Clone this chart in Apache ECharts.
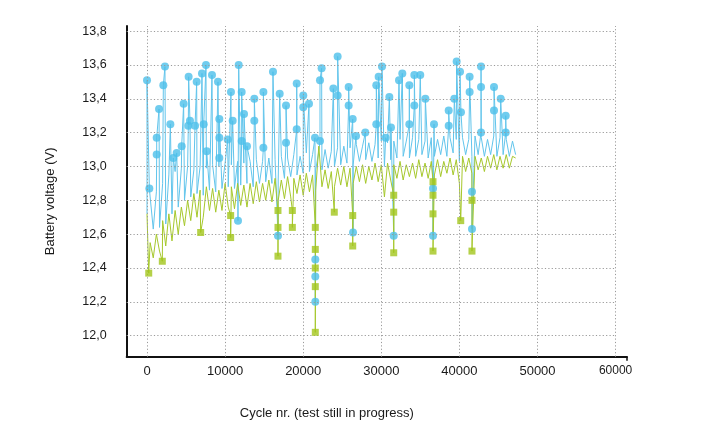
<!DOCTYPE html>
<html>
<head>
<meta charset="utf-8">
<script src="https://cdn.jsdelivr.net/npm/echarts@6/dist/echarts.min.js"></script>
<style>
html,body{margin:0;padding:0;background:#fff;}
#c{width:708px;height:425px;}
</style>
</head>
<body>
<div id="c"></div>
<script>
// Zigzag (regular cycle) readings
var cycles = [0,400,800,1200,1600,2000,2400,2800,3200,3600,4000,4400,4800,5200,5600,6000,6400,6800,7200,7600,
  8000,8400,8800,9200,9600,10000,10400,10800,11200,11600,12000,12400,12800,13200,13600,14000,14400,14800,15200,15600,
  16000,16400,16800,17200,17600,18000,18400,18800,19200,19600,20000,20400,20800,21200,21600,22000,22400,22800,23200,23600,
  24000,24400,24800,25200,25600,26000,26400,26800,27200,27600,28000,28400,28800,29200,29600,30000,30400,30800,31200,31600,
  32000,32400,32800,33200,33600,34000,34400,34800,35200,35600,36000,36400,36800,37200,37600,38000,38400,38800,39200,39600,
  40000,40400,40800,41200,41600,42000,42400,42800,43200,43600,44000,44400,44800,45200,45600,46000,46400,46800,47200];
var blueLine = [12.72,12.82,12.63,12.85,12.64,12.90,12.66,12.95,12.72,12.97,12.76,12.99,12.80,13.00,12.82,12.98,12.84,13.00,12.83,12.99,
  12.86,13.01,12.85,13.00,12.87,13.02,12.88,13.01,12.87,13.03,12.89,13.02,12.90,13.03,12.88,13.04,12.90,13.03,12.91,13.05,
  12.90,13.04,12.92,13.06,12.93,13.05,12.94,13.07,12.95,13.06,12.96,13.08,12.97,13.07,12.98,13.09,12.98,13.10,12.99,13.09,
  13.00,13.11,13.01,13.12,13.02,13.11,13.01,13.13,13.03,13.12,13.04,13.14,13.03,13.13,13.05,13.15,13.00,13.14,13.04,13.15,
  13.05,13.16,13.06,13.15,13.05,13.17,13.06,13.16,13.07,13.15,13.05,13.17,13.06,13.16,13.07,13.18,13.06,13.17,13.08,13.16,
  13.03,13.17,13.07,13.16,13.06,13.18,13.07,13.17,13.06,13.16,13.07,13.18,13.06,13.17,13.07,13.16,13.06,13.15,13.07];
var greenLine = [12.72,12.55,12.46,12.60,12.50,12.68,12.53,12.72,12.56,12.74,12.60,12.76,12.65,12.80,12.68,12.84,12.70,12.86,12.70,12.88,
  12.74,12.87,12.73,12.86,12.74,12.90,12.76,12.88,12.75,12.90,12.77,12.89,12.76,12.90,12.78,12.91,12.79,12.90,12.80,12.92,
  12.79,12.93,12.80,12.92,12.81,12.94,12.82,12.93,12.84,12.95,12.83,12.96,12.85,12.95,12.86,13.12,12.88,12.98,12.87,12.97,
  12.88,12.99,12.89,13.00,12.88,12.99,12.90,13.00,12.91,13.01,12.90,13.00,12.92,13.02,12.91,13.01,12.82,13.02,12.92,13.01,
  12.93,13.03,12.92,13.01,12.94,13.02,12.93,13.04,12.94,13.02,12.93,13.03,12.95,13.04,12.94,13.03,12.96,13.05,12.95,13.04,
  12.90,13.06,12.97,13.05,12.96,13.06,12.98,13.05,12.97,13.06,12.99,13.07,12.98,13.06,12.99,13.07,12.99,13.06,13.05];

// Marked check readings (circles on blue, squares on green)
var blueMarkCycle = [0,300,1240,1240,1540,2090,2300,2990,3370,3800,4440,4690,5290,5330,5500,6150,6360,7040,7260,7550,
  7640,8320,9090,9260,9260,9260,10330,10750,10970,11650,11740,12120,12120,12420,12800,13740,13740,14900,14900,16130,
  16770,16990,17800,17800,19170,19170,20010,20010,20740,21510,21550,21550,21550,22150,22150,22360,23860,24410,24410,25820,
  25820,26340,26380,26760,27950,29360,29360,29660,30090,30560,31030,31240,31590,32270,32690,33590,33590,34230,34230,34990,
  35640,36620,36620,36750,38630,38630,39350,39650,40080,40200,41310,41310,41610,41610,42770,42770,42770,44430,44430,45290,
  45930,45930];
var blueMarkV = [13.51,12.87,13.07,13.17,13.34,13.48,13.59,13.25,13.05,13.08,13.12,13.37,13.24,13.53,13.27,13.24,13.50,13.55,13.25,13.60,
  13.09,13.54,13.50,13.05,13.17,13.28,13.16,13.44,13.27,12.68,13.60,13.15,13.44,13.31,13.12,13.27,13.40,13.11,13.44,13.56,
  12.59,13.43,13.14,13.36,13.22,13.49,13.35,13.42,13.37,13.17,12.45,12.35,12.20,13.15,13.51,13.58,13.46,13.42,13.65,13.36,
  13.47,13.28,12.61,13.18,13.20,13.25,13.48,13.53,13.59,13.17,13.41,13.23,12.59,13.51,13.55,13.25,13.48,13.36,13.54,13.54,
  13.40,12.87,12.59,13.25,13.24,13.33,13.40,13.62,13.56,13.32,13.44,13.53,12.85,12.63,13.20,13.47,13.59,13.33,13.47,13.40,
  13.20,13.30];
var greenMarkCycle = [220,1960,6870,10710,10710,16770,16770,16770,18610,18610,21550,21550,21550,21550,21550,23980,26340,26340,
  31590,31590,31590,36620,36620,36620,36620,40170,41610,41610];
var greenMarkV = [12.37,12.44,12.61,12.71,12.58,12.74,12.64,12.47,12.74,12.64,12.64,12.51,12.40,12.29,12.02,12.73,12.71,12.53,
  12.83,12.73,12.49,12.91,12.83,12.72,12.50,12.68,12.80,12.50];

// Axis ticks
var xTicks = [0,10000,20000,30000,40000,50000,60000];
var yTicks = [12.0,12.2,12.4,12.6,12.8,13.0,13.2,13.4,13.6,13.8];

var X_MIN = -2600, X_MAX = 61460, Y_MIN = 11.876, Y_MAX = 13.83;

function merge(zx, zy, mx, my) {
  var out = [], j = 0;
  for (var i = 0; i < zx.length; i++) {
    out.push([zx[i], zy[i]]);
    var next = i + 1 < zx.length ? zx[i + 1] : Infinity;
    while (j < mx.length && mx[j] < next) { out.push([mx[j], my[j]]); j++; }
  }
  return out;
}
function pairs(a, b) { return a.map(function (x, i) { return [x, b[i]]; }); }

var gridLines = [];
yTicks.forEach(function (v) { gridLines.push([{coord: [X_MIN, v]}, {coord: [60000, v]}]); });
xTicks.forEach(function (v) { gridLines.push([{coord: [v, Y_MIN]}, {coord: [v, Y_MAX]}]); });

var FONT = 'Liberation Sans, Arial, Helvetica, sans-serif';
var chart = echarts.init(document.getElementById('c'), null, {renderer: 'canvas'});
chart.setOption({
  animation: false,
  backgroundColor: '#fff',
  grid: {left: 126.7, right: 81, top: 26, bottom: 68.3, containLabel: false, outerBoundsMode: 'none'},
  xAxis: {
    type: 'value', min: X_MIN, max: X_MAX,
    name: 'Cycle nr. (test still in progress)', nameLocation: 'middle', nameGap: 50,
    nameTextStyle: {fontFamily: FONT, fontSize: 13, color: '#1a1a1a', padding: [0, 100, 0, 0]},
    axisLine: {show: true, onZero: false, lineStyle: {color: '#111', width: 2}},
    axisTick: {show: true, customValues: [X_MAX], length: 4, lineStyle: {color: '#111', width: 1.5}},
    splitLine: {show: false},
    axisLabel: {
      customValues: xTicks, margin: 8, fontFamily: FONT, fontSize: 13, color: '#1a1a1a',
      formatter: function (v) { return v === 60000 ? '{s|60000}' : String(v); },
      rich: {s: {fontFamily: FONT, fontSize: 12, color: '#1a1a1a'}}
    }
  },
  yAxis: {
    type: 'value', min: Y_MIN, max: Y_MAX,
    name: 'Battery voltage (V)', nameLocation: 'middle', nameGap: 70,
    nameTextStyle: {fontFamily: FONT, fontSize: 13, color: '#1a1a1a', padding: [0, 20, 0, 0]},
    axisLine: {show: true, onZero: false, lineStyle: {color: '#111', width: 2}},
    axisTick: {show: false},
    splitLine: {show: false},
    axisLabel: {
      customValues: yTicks, margin: 20, fontFamily: FONT, fontSize: 12.5, color: '#1a1a1a',
      formatter: function (v) { return v.toFixed(1).replace('.', ','); }
    }
  },
  series: [
    {
      type: 'line', name: 'grid', data: [], silent: true,
      markLine: {silent: true, symbol: ['none', 'none'], label: {show: false},
        lineStyle: {type: [1.2, 2.2], color: '#9a9a9a', width: 1}, data: gridLines}
    },
    {
      type: 'line', name: 'blueLine', data: merge(cycles, blueLine, blueMarkCycle, blueMarkV),
      showSymbol: false, symbol: 'none', lineStyle: {color: '#62c5ec', width: 1}, z: 2
    },
    {
      type: 'line', name: 'greenLine', data: merge(cycles, greenLine, greenMarkCycle, greenMarkV),
      showSymbol: false, symbol: 'none', lineStyle: {color: '#a6c82c', width: 1}, z: 3
    },
    {
      type: 'scatter', name: 'blueMarks', data: pairs(blueMarkCycle, blueMarkV),
      symbol: 'circle', symbolSize: 8, itemStyle: {color: '#4cbfea'}, z: 4
    },
    {
      type: 'scatter', name: 'greenMarks', data: pairs(greenMarkCycle, greenMarkV),
      symbol: 'rect', symbolSize: 7, itemStyle: {color: '#a2c51c'}, z: 5
    }
  ]
});
</script>
</body>
</html>
